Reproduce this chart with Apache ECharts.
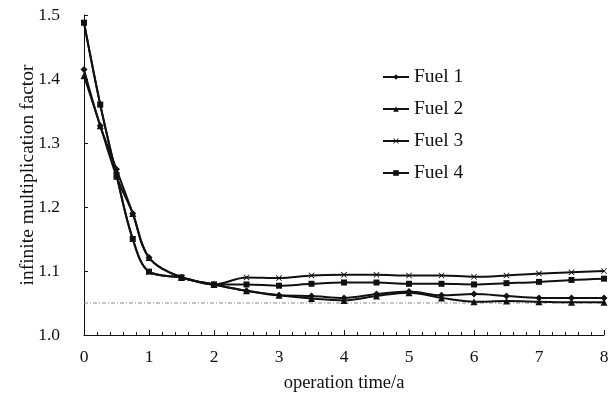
<!DOCTYPE html>
<html>
<head>
<meta charset="utf-8">
<script src="https://cdn.jsdelivr.net/npm/echarts@6/dist/echarts.min.js"></script>
<style>
  html, body { margin: 0; padding: 0; background: #fff; }
  #chart { width: 616px; height: 408px; }
</style>
</head>
<body>
<div id="chart"></div>
<script>
// Operation time (years) at which k-infinity was evaluated
const times = [0, 0.25, 0.5, 0.75, 1, 1.5, 2, 2.5, 3, 3.5, 4, 4.5, 5, 5.5, 6, 6.5, 7, 7.5, 8];

// Infinite multiplication factor for each fuel
const fuel1 = [1.415, 1.327, 1.259, 1.190, 1.121, 1.090, 1.079, 1.069, 1.062, 1.061, 1.058, 1.064, 1.068, 1.062, 1.064, 1.061, 1.058, 1.058, 1.058];
const fuel2 = [1.405, 1.327, 1.248, 1.190, 1.121, 1.090, 1.079, 1.069, 1.062, 1.057, 1.054, 1.061, 1.066, 1.058, 1.052, 1.053, 1.052, 1.051, 1.051];
const fuel3 = [1.488, 1.360, 1.250, 1.150, 1.099, 1.090, 1.079, 1.090, 1.089, 1.093, 1.094, 1.094, 1.093, 1.093, 1.091, 1.093, 1.096, 1.098, 1.100];
const fuel4 = [1.488, 1.360, 1.250, 1.150, 1.099, 1.090, 1.079, 1.079, 1.077, 1.080, 1.082, 1.082, 1.080, 1.080, 1.079, 1.081, 1.083, 1.086, 1.088];

const seriesNames = ['Fuel 1', 'Fuel 2', 'Fuel 3', 'Fuel 4'];

// Criticality reference level
const referenceLevel = 1.05;

const yTicks = [1.0, 1.1, 1.2, 1.3, 1.4, 1.5];

const font = 'Liberation Serif, Times New Roman, serif';
const crossSymbol = 'path://M0,1L1,0L5,4L9,0L10,1L6,5L10,9L9,10L5,6L1,10L0,9L4,5Z';

function pairs(vals) {
  return times.map((t, i) => [t, vals[i]]);
}

function fuelSeries(name, vals, symbol, size) {
  return {
    name: name,
    type: 'line',
    data: pairs(vals),
    smooth: 0.35,
    symbol: symbol,
    symbolSize: size,
    showSymbol: true,
    lineStyle: { color: '#111', width: 2 },
    itemStyle: { color: '#111' },
    z: 3
  };
}

const chart = echarts.init(document.getElementById('chart'));

chart.setOption({
  animation: false,
  backgroundColor: '#fff',
  textStyle: { fontFamily: font, color: '#111' },
  grid: { left: 84, right: 12, top: 15, bottom: 73 },
  legend: {
    orient: 'vertical',
    left: 377,
    top: 62,
    itemWidth: 26,
    itemHeight: 7,
    itemGap: 12,
    data: seriesNames,
    textStyle: { fontFamily: font, fontSize: 19.5, color: '#111' }
  },
  xAxis: {
    type: 'value',
    min: 0,
    max: 8,
    interval: 1,
    name: 'operation time/a',
    nameLocation: 'middle',
    nameGap: 39,
    nameMoveOverlap: false,
    nameTextStyle: { fontFamily: font, fontSize: 18.5, color: '#111' },
    axisLine: { lineStyle: { color: '#111', width: 1 } },
    axisTick: { inside: true, length: 5, lineStyle: { color: '#111' } },
    minorTick: { show: true, splitNumber: 5, length: 3, lineStyle: { color: '#111' } },
    axisLabel: { fontFamily: font, fontSize: 17.5, color: '#111', margin: 13 },
    splitLine: { show: false }
  },
  yAxis: {
    type: 'value',
    min: yTicks[0],
    max: yTicks[yTicks.length - 1],
    interval: 0.1,
    name: 'infinite multiplication factor',
    nameLocation: 'middle',
    nameGap: 46,
    nameMoveOverlap: false,
    nameTextStyle: { fontFamily: font, fontSize: 19.5, color: '#111' },
    axisLine: { show: true, lineStyle: { color: '#111', width: 1 } },
    axisTick: { show: true, inside: true, length: 4, lineStyle: { color: '#111' } },
    axisLabel: {
      fontFamily: font, fontSize: 17.5, color: '#111', margin: 24,
      formatter: v => v.toFixed(1)
    },
    splitLine: { show: false }
  },
  series: [
    fuelSeries('Fuel 1', fuel1, 'diamond', 7),
    fuelSeries('Fuel 2', fuel2, 'triangle', 7),
    fuelSeries('Fuel 3', fuel3, crossSymbol, 6),
    fuelSeries('Fuel 4', fuel4, 'rect', 6),
    {
      name: 'reference',
      type: 'line',
      data: [[times[0], referenceLevel], [times[times.length - 1], referenceLevel]],
      symbol: 'none',
      lineStyle: { color: '#888', width: 1, type: [4, 2, 1, 2] },
      z: 1,
      silent: true
    }
  ]
});
</script>
</body>
</html>
